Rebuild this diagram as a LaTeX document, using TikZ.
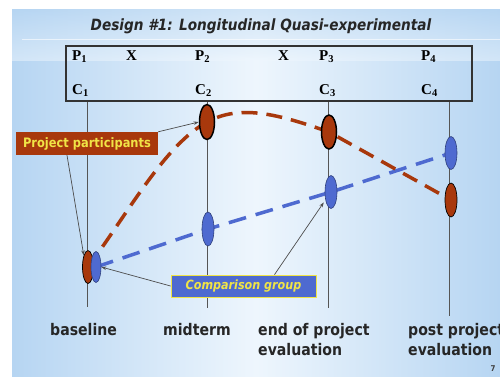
\documentclass[tikz,border=0pt]{standalone}
\usepackage{fontspec}
\newfontfamily\tah{DejaVu Sans}[FakeStretch=0.88]
\newfontfamily\tms{Liberation Serif}
\usetikzlibrary{arrows.meta,calc,shapes.geometric}
\definecolor{rust}{RGB}{168,56,12}
\definecolor{cblue}{RGB}{78,106,208}
\definecolor{bgblue}{RGB}{182,213,242}
\definecolor{bgmid}{RGB}{238,246,253}
\definecolor{labyel}{RGB}{240,228,70}
\definecolor{vline}{RGB}{85,85,85}
\begin{document}
\begin{tikzpicture}[x=1pt,y=-1pt,
  pc/.style={font=\tms\bfseries\fontsize{15}{15}\selectfont, inner sep=0pt, anchor=base west},
  vl/.style={draw=vline, line width=1pt},
  redell/.style={ellipse, fill=rust, draw=black, line width=0.7pt, inner sep=0pt},
  blueell/.style={ellipse, fill=cblue, draw=cblue!60!black, line width=0.6pt, inner sep=0pt},
  ptr/.style={draw=black!70, line width=0.7pt, -{Stealth[length=5pt,width=3.5pt]}},
  tlabel/.style={font=\tah\bfseries\fontsize{16}{20}\selectfont, inner sep=0pt, anchor=base west, align=left, text=black!85},
  reddash/.style={draw=rust, line width=3.5pt, dash pattern=on 16pt off 9pt},
  bluedash/.style={draw=cblue, line width=3.5pt, dash pattern=on 18pt off 10pt}
]
\useasboundingbox (0,0) rectangle (500,376);
\fill[white] (0,0) rectangle (500,376);
\shade[left color=bgblue, right color=bgblue, middle color=bgmid] (12,9) rectangle (500,376);
\shade[top color=bgblue, bottom color=bgmid, opacity=0.5] (12,9) rectangle (500,60);
\draw[white, opacity=0.6, line width=1pt] (22,39) -- (500,39);

% title
\node[font=\tah\bfseries\itshape\fontsize{15.5}{16}\selectfont, anchor=base, inner sep=0pt, text=black!85] (title) at (261,30) {Design \#1: Longitudinal Quasi-experimental};

% box
\node[draw=black!80, line width=2pt, minimum width=406pt, minimum height=55pt, inner sep=0pt] (box) at (269,73.5) {};

\node[pc] (p1) at (72,60) {P\textsubscript{1}};
\node[pc] (x1) at (126,60) {X};
\node[pc] (p2) at (195,60) {P\textsubscript{2}};
\node[pc] (x2) at (278,60) {X};
\node[pc] (p3) at (319,60) {P\textsubscript{3}};
\node[pc] (p4) at (421,60) {P\textsubscript{4}};
\node[pc] (c1) at (72,94) {C\textsubscript{1}};
\node[pc] (c2) at (195,94) {C\textsubscript{2}};
\node[pc] (c3) at (319,94) {C\textsubscript{3}};
\node[pc] (c4) at (421,94) {C\textsubscript{4}};

% vertical lines
\coordinate (v1) at (87,307);
\coordinate (v2) at (207,308);
\coordinate (v3) at (328,308);
\coordinate (v4) at (449,316);
\foreach \v in {v1,v2,v3,v4} \draw[vl] (\v |- box.south) -- (\v);

% ellipse positions
\coordinate (rbc) at (88,267);
\coordinate (bbc) at (96,267);
\coordinate (rmc) at (207,122);
\coordinate (bmc) at (208,229);
\coordinate (rec) at (329,132);
\coordinate (bec) at (331,192);
\coordinate (bpc) at (451,153);
\coordinate (rpc) at (451,200);

% dashed curves
\draw[bluedash] (bbc) -- (bmc) -- (bec) -- (bpc);
\draw[reddash] (rbc) .. controls (130,210) and (165,145) .. (rmc)
  .. controls (240,104) and (278,114) .. (rec) -- (rpc);

% ellipses
\node[redell, minimum width=11pt, minimum height=33pt] (rb) at (rbc) {};
\node[blueell, minimum width=10pt, minimum height=31pt] (bb) at (bbc) {};
\node[redell, line width=1.5pt, minimum width=15pt, minimum height=35pt] (rm) at (rmc) {};
\node[blueell, minimum width=12pt, minimum height=34pt] (bm) at (bmc) {};
\node[redell, line width=1.5pt, minimum width=15pt, minimum height=34pt] (re) at (rec) {};
\node[blueell, minimum width=12pt, minimum height=33pt] (be) at (bec) {};
\node[blueell, minimum width=12pt, minimum height=33pt] (bp) at (bpc) {};
\node[redell, minimum width=12pt, minimum height=34pt] (rp) at (rpc) {};

% labels
\node[fill=rust, text=labyel, font=\tah\bfseries\fontsize{13}{13}\selectfont, minimum width=142pt, minimum height=23pt, inner sep=0pt] (pp) at (87,143.5) {Project participants};
\node[fill=cblue, draw=labyel, line width=0.8pt, text=labyel, font=\tah\bfseries\itshape\fontsize{12.7}{13}\selectfont, minimum width=145pt, minimum height=22pt, inner sep=0pt] (cg) at (243.5,286) {Comparison group};

\draw[ptr] (pp.north east) -- (rm.west);
\draw[ptr] ([xshift=-20pt]pp.south) -- (rb.110);
\draw[ptr] (cg.west) -- (bb.east);
\draw[ptr, shorten >=3pt] ([xshift=31pt]cg.north) -- (be.235);

% bottom labels
\node[tlabel] (l1) at (50,335) {baseline};
\node[tlabel] (l2) at (163,335) {midterm};
\node[tlabel] (l3) at (258,355) {end of project\\evaluation};
\node[tlabel] (l4) at (408,355) {post project\\evaluation};
\node[font=\tah\bfseries\fontsize{8}{8}\selectfont, text=black!75, inner sep=0pt] (pg) at (493,369) {7};
\end{tikzpicture}
\end{document}
